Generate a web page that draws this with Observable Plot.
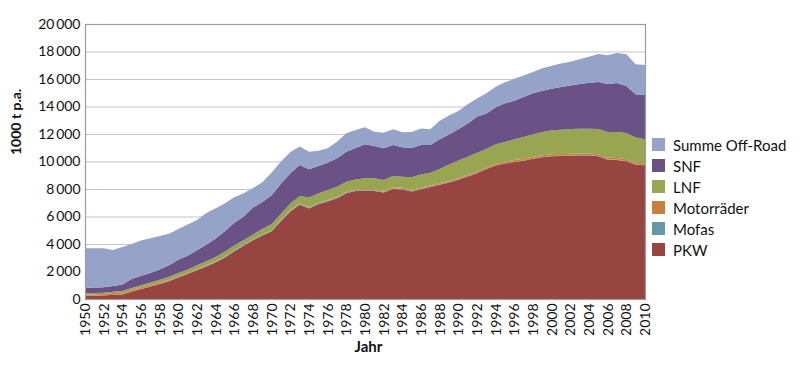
<!DOCTYPE html>
<html>
<head>
<meta charset="utf-8">
<script src="https://cdn.jsdelivr.net/npm/d3@7"></script>
<script src="https://cdn.jsdelivr.net/npm/@observablehq/plot@0.6"></script>
<style>
  html, body { margin: 0; padding: 0; background: #fff; }
  #wrap { position: relative; width: 800px; height: 369px; font-family: Lato, "Open Sans", sans-serif; }
  #legend { position: absolute; left: 652px; top: 134px; }
  .row { display: flex; align-items: center; height: 21px; font-size: 15px; color: #111; white-space: nowrap; }
  .sw { width: 13px; height: 13px; margin-right: 8px; box-sizing: border-box; }
</style>
</head>
<body>
<div id="wrap"><div id="chart"></div><div id="legend"></div></div>
<script>
// Years (x categories)
const years = [1950,1951,1952,1953,1954,1955,1956,1957,1958,1959,
  1960,1961,1962,1963,1964,1965,1966,1967,1968,1969,
  1970,1971,1972,1973,1974,1975,1976,1977,1978,1979,
  1980,1981,1982,1983,1984,1985,1986,1987,1988,1989,
  1990,1991,1992,1993,1994,1995,1996,1997,1998,1999,
  2000,2001,2002,2003,2004,2005,2006,2007,2008,2009,2010];

// Series values (1000 t p.a.)
const PKW = [235,245,255,304,332,520,727,884,1091,1298,
  1555,1812,2099,2371,2673,3025,3478,3876,4274,4622,
  4920,5669,6368,6862,6576,6900,7095,7331,7687,7863,
  7860,7857,7754,7991,7968,7820,7972,8144,8316,8478,
  8680,8916,9152,9448,9704,9850,9966,10057,10203,10304,
  10375,10400,10425,10445,10445,10375,10135,10115,10015,9770,9730];
const Mofas = [5,5,5,6,8,10,13,16,19,22,
  25,28,31,34,37,40,42,44,46,48,
  50,51,52,53,54,55,55,54,53,52,
  50,48,46,44,42,40,38,36,34,32,
  30,29,28,27,26,25,24,23,22,21,
  20,20,20,20,20,20,20,20,20,20,20];
const Motorraeder = [90,100,110,120,120,120,110,100,90,80,
  70,60,50,45,40,35,30,30,30,30,
  30,30,30,35,40,45,50,55,60,65,
  70,75,80,85,90,90,90,90,90,90,
  90,95,100,105,110,115,120,120,125,125,
  125,125,125,125,125,125,125,125,125,120,120];
const LNF = [90,90,90,100,120,150,150,200,200,220,
  250,250,270,300,300,350,350,350,350,400,
  450,450,500,540,720,680,730,730,730,720,
  800,800,770,830,800,900,950,920,1010,1190,
  1280,1310,1360,1330,1410,1430,1500,1590,1630,1700,
  1750,1765,1790,1800,1800,1840,1870,1890,1910,1830,1740];
const SNF = [380,390,400,410,470,650,700,700,750,830,
  950,1000,1100,1200,1350,1500,1650,1700,1950,1950,
  2100,2200,2200,2260,2040,1990,1985,2060,2180,2280,
  2470,2350,2310,2250,2130,2140,2150,2010,2160,2180,
  2260,2420,2620,2590,2690,2810,2810,2910,2980,3000,
  3030,3110,3160,3250,3340,3420,3490,3560,3420,3150,3230];
const OffRoad = [2900,2870,2830,2620,2730,2550,2550,2520,2430,2300,
  2240,2270,2200,2300,2200,2020,1850,1700,1420,1450,
  1650,1600,1550,1350,1280,1120,1045,1210,1340,1310,
  1240,1040,1140,1140,1090,1160,1200,1140,1360,1380,
  1330,1390,1330,1460,1500,1530,1600,1550,1550,1630,
  1670,1700,1740,1790,1890,2040,2080,2180,2310,2180,2180];

// Series names (stack order: bottom first) and colours
const seriesNames = ["PKW", "Mofas", "Motorräder", "LNF", "SNF", "Summe Off-Road"];
const seriesColors = ["#974540", "#6497A8", "#C9803F", "#98A652", "#6A5287", "#95A3C8"];
const legendOrder = ["Summe Off-Road", "SNF", "LNF", "Motorräder", "Mofas", "PKW"];

// Tick labels
const yTicks = [0,2000,4000,6000,8000,10000,12000,14000,16000,18000,20000];
const xTicks = [1950,1952,1954,1956,1958,1960,1962,1964,1966,1968,1970,1972,1974,1976,1978,
  1980,1982,1984,1986,1988,1990,1992,1994,1996,1998,2000,2002,2004,2006,2008,2010];
const yLabel = "1000 t p.a.";
const xLabel = "Jahr";

const valuesBySeries = [PKW, Mofas, Motorraeder, LNF, SNF, OffRoad];
const long = [];
seriesNames.forEach((s, i) => {
  years.forEach((y, j) => long.push({year: y, series: s, value: valuesBySeries[i][j]}));
});

const de = d3.formatLocale({decimal: ",", thousands: "\u2009", grouping: [3], currency: ["", " €"]});
const fmt = de.format(",");

const chart = Plot.plot({
  width: 800,
  height: 369,
  marginLeft: 85,
  marginRight: 155,
  marginTop: 24,
  marginBottom: 70,
  style: {fontFamily: "Lato, 'Open Sans', sans-serif", fontSize: "14px", color: "#111", background: "white", overflow: "visible"},
  x: {domain: [1950, 2010], axis: null, label: null},
  y: {domain: [0, 20000], axis: null, label: null},
  color: {domain: seriesNames, range: seriesColors},
  marks: [
    Plot.gridY(yTicks, {stroke: "#c4c4c4", strokeOpacity: 1, strokeWidth: 1.2}),
    Plot.areaY(long, {x: "year", y: "value", fill: "series", order: seriesNames, curve: "linear"}),
    Plot.frame({stroke: "#9c9c9c", strokeWidth: 1.2}),
    Plot.axisY(yTicks, {tickSize: 0, tickPadding: 5, tickFormat: fmt, fontSize: 14, label: null}),
    Plot.axisX(xTicks, {tickSize: 0, tickPadding: 4, tickRotate: -90, tickFormat: d => String(d), fontSize: 14, label: null}),
    Plot.text([yLabel], {frameAnchor: "left", text: d => d, rotate: -90, dx: -69, dy: -7, fontWeight: "bold", fontSize: 14}),
    Plot.text([xLabel], {frameAnchor: "bottom", text: d => d, dx: 3, dy: 52, fontWeight: "bold", fontSize: 15})
  ]
});
document.getElementById("chart").appendChild(chart);

const legend = d3.select("#legend");
legendOrder.forEach(name => {
  const row = legend.append("div").attr("class", "row");
  row.append("div").attr("class", "sw").style("background", seriesColors[seriesNames.indexOf(name)]);
  row.append("span").text(name);
});
</script>
</body>
</html>
